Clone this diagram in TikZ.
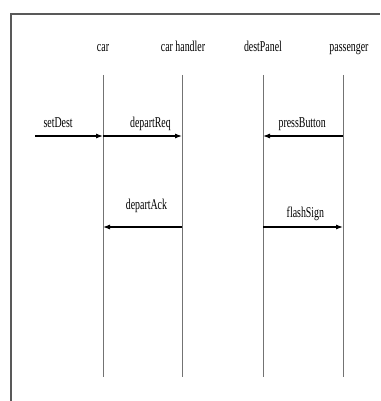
\documentclass[tikz,border=0pt]{standalone}
\usepackage{fontspec}
\newfontfamily\labelfont[FakeStretch=0.66]{Liberation Serif}
\usetikzlibrary{arrows.meta}

\begin{document}
\begin{tikzpicture}[x=1pt, y=-1pt,
	lifeline/.style={draw=black!55, line width=0.8pt},
	msg/.style={-{Latex[length=7pt,width=5pt]}, line width=1.1pt},
	lbl/.style={font=\labelfont\fontsize{15}{17}\selectfont, inner sep=0pt, anchor=base}]
		\useasboundingbox (0,0) rectangle (380,401);
		\draw[black!65, line width=1.3pt] (11,401) -- (11,14) -- (380,14);
		% object names
		\node[lbl] (car) at (103,52) {car};
		\node[lbl] (handler) at (183,52) {car handler};
		\node[lbl] (panel) at (263,52) {destPanel};
		\node[lbl] (pass) at (349,52) {passenger};
		% lifelines
		\foreach \n/\x in {car/103, handler/182, panel/263, pass/343} {
			\coordinate (\n-top) at (\x,75);
			\coordinate (\n-bot) at (\x,377);
			\coordinate (\n-1) at (\x,136);
			\coordinate (\n-2) at (\x,227);
			\draw[lifeline] (\n-top) -- (\n-bot);
		}
		\coordinate (env) at (35,136);
		% messages
		\draw[msg] (env) -- node[lbl, pos=0.34, yshift=8pt] (m1) {setDest} (car-1);
		\draw[msg] (car-1) -- node[lbl, pos=0.6, yshift=8pt] (m2) {departReq} (handler-1);
		\draw[msg] (pass-1) -- node[lbl, pos=0.51, yshift=8pt] (m3) {pressButton} (panel-1);
		\draw[msg] (handler-2) -- node[lbl, pos=0.45, yshift=18pt] (m4) {departAck} (car-2);
		\draw[msg] (panel-2) -- node[lbl, pos=0.53, yshift=10pt] (m5) {flashSign} (pass-2);
	\end{tikzpicture}
\end{document}
